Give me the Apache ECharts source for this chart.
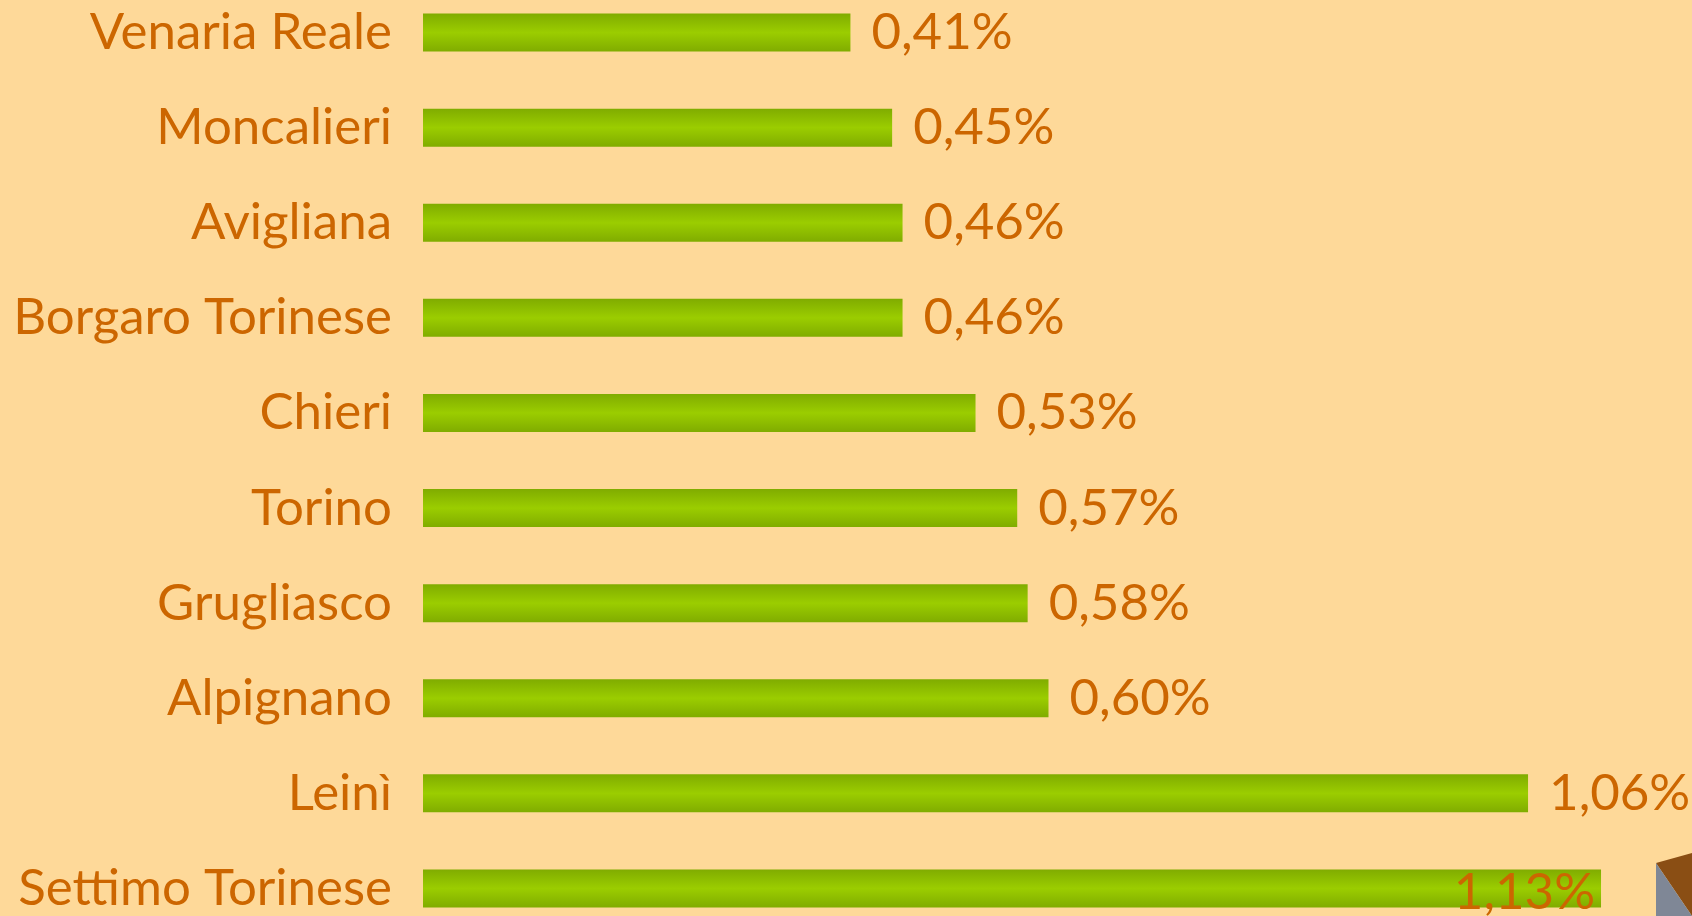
<!DOCTYPE html>
<html>
<head>
<meta charset="utf-8">
<script src="https://cdn.jsdelivr.net/npm/echarts@6/dist/echarts.min.js"></script>
<style>
	html, body { margin: 0; padding: 0; background: #FED999; }
	#chart { width: 1692px; height: 916px; }
</style>
</head>
<body>
<div id="chart"></div>
<script>
	// comuni, dall'alto verso il basso
	var comuni = ['Venaria Reale', 'Moncalieri', 'Avigliana', 'Borgaro Torinese', 'Chieri', 'Torino', 'Grugliasco', 'Alpignano', 'Leinì', 'Settimo Torinese']
	// percentuali (%)
	var percentuali = [0.41, 0.45, 0.46, 0.46, 0.53, 0.57, 0.58, 0.60, 1.06, 1.13]

	var testo = '#CC6600'
	var ombra = '#A9B6CC'
	var font = 'Lato, "Open Sans", sans-serif'

	var barColor = new echarts.graphic.LinearGradient(0, 0, 0, 1, [
		{ offset: 0, color: '#80AC00' },
		{ offset: 0.5, color: '#9BCD00' },
		{ offset: 1, color: '#80AC00' }
	])

	var seriesData = percentuali.map(function (v, i) {
		var item = { value: v }
		// l'ultima etichetta sta dentro la barra
		if (i === percentuali.length - 1) {
			item.label = { position: 'insideRight', distance: 6, offset: [0, 4] }
		}
		return item
	})

	var chart = echarts.init(document.getElementById('chart'))
	chart.setOption({
		backgroundColor: '#FED999',
		animation: false,
		grid: {
			left: 423,
			top: -15,
			width: 1251,
			height: 951,
			containLabel: false,
			outerBoundsMode: 'none'
		},
		xAxis: {
			type: 'value',
			min: 0,
			max: 1.2,
			show: false
		},
		yAxis: {
			type: 'category',
			data: comuni,
			inverse: true,
			axisLine: { show: false },
			axisTick: { show: false },
			splitLine: { show: false },
			axisLabel: {
				margin: 31,
				color: testo,
				fontSize: 51,
				fontFamily: font,
				padding: [0, 0, 14, 0],
				textShadowColor: ombra,
				textShadowOffsetX: 2,
				textShadowOffsetY: 2,
				textShadowBlur: 0
			}
		},
		series: [{
			type: 'bar',
			data: seriesData,
			barWidth: 38,
			itemStyle: { color: barColor },
			label: {
				show: true,
				position: 'right',
				distance: 21,
				color: testo,
				fontSize: 51,
				fontFamily: font,
				textShadowColor: ombra,
				textShadowOffsetX: 2,
				textShadowOffsetY: 2,
				textShadowBlur: 0,
				formatter: function (p) {
					return p.value.toFixed(2).replace('.', ',') + '%'
				}
			}
		}],
		graphic: [
			{
				type: 'polygon',
				shape: { points: [[1656, 863], [1692, 853], [1692, 916]] },
				style: { fill: '#8A4E14' }
			},
			{
				type: 'polygon',
				shape: { points: [[1656, 863], [1692, 916], [1656, 916]] },
				style: { fill: '#7F8796' }
			}
		]
	})
</script>
</body>
</html>
